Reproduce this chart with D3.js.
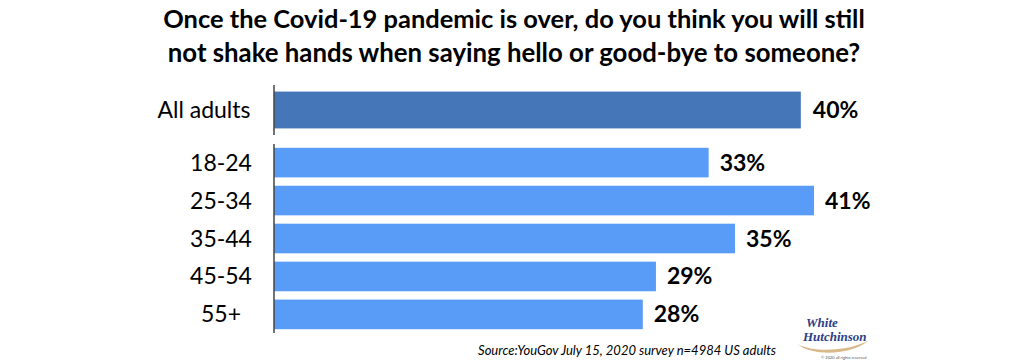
<!DOCTYPE html>
<html>
<head>
    <meta charset="utf-8">
    <style>
        body { margin: 0; background: white; }
        svg { display: block; font-family: Lato, 'Noto Sans', sans-serif; }
    </style>
</head>
<body>
    <svg width="1024" height="361"></svg>

<script src="https://d3js.org/d3.v7.min.js"></script>
<script>
    // data
    let titleLines = ["Once the Covid-19 pandemic is over, do you think you will still",
                      "not shake hands when saying hello or good-bye to someone?"]
    let totalLabel = ["All adults"]
    let totalValue = [40]
    let ages = ["18-24", "25-34", "35-44", "45-54", "55+"]
    let ageValues = [33, 41, 35, 29, 28]
    let source = "Source:YouGov July 15, 2020 survey n=4984 US adults"

    let svg = d3.select("svg")

    // title, stretched to the width it has in the picture
    svg.selectAll(".title")
        .data(titleLines)
        .join("text")
        .attr("class", "title")
        .attr("x", 514)
        .attr("y", (d, i) => 28 + i * 34)
        .attr("text-anchor", "middle")
        .style("font-weight", "bold")
        .style("font-size", "24px")
        .style("fill", "#000")
        .text(d => d)
        .each(function (d, i) {
            let target = i == 0 ? 702 : 693
            let w = this.getComputedTextLength()
            d3.select(this).style("font-size", (24 * target / w) + "px")
        })

    let x = d3.scaleLinear()
        .domain([0, 41])
        .range([274, 814])

    // top group: all adults
    let yTop = d3.scaleBand()
        .domain(totalLabel)
        .range([89, 131])
        .paddingInner(0)
        .paddingOuter(0.07)

    // bottom group: ages
    let yAge = d3.scaleBand()
        .domain(ages)
        .range([144, 333])
        .paddingInner(0.22)
        .paddingOuter(0.1)

    svg.selectAll(".total")
        .data(totalValue)
        .join("rect")
        .attr("x", x(0))
        .attr("y", (d, i) => yTop(totalLabel[i]))
        .attr("width", d => x(d) - x(0))
        .attr("height", yTop.bandwidth())
        .style("fill", "#4577b8")

    svg.selectAll(".age")
        .data(ageValues)
        .join("rect")
        .attr("x", x(0))
        .attr("y", (d, i) => yAge(ages[i]))
        .attr("width", d => x(d) - x(0))
        .attr("height", yAge.bandwidth())
        .style("fill", "#589cf8")

    // value labels
    svg.selectAll(".totalval")
        .data(totalValue)
        .join("text")
        .attr("x", d => x(d) + 12)
        .attr("y", (d, i) => yTop(totalLabel[i]) + yTop.bandwidth() / 2 + 8)
        .style("font-weight", "bold")
        .style("font-size", "23px")
        .text(d => d + "%")

    svg.selectAll(".ageval")
        .data(ageValues)
        .join("text")
        .attr("x", d => x(d) + 11)
        .attr("y", (d, i) => yAge(ages[i]) + yAge.bandwidth() / 2 + 8)
        .style("font-weight", "bold")
        .style("font-size", "23px")
        .text(d => d + "%")

    // category labels
    svg.selectAll(".totallab")
        .data(totalLabel)
        .join("text")
        .attr("x", 204)
        .attr("y", d => yTop(d) + yTop.bandwidth() / 2 + 8)
        .attr("text-anchor", "middle")
        .style("font-size", "23px")
        .text(d => d)

    svg.selectAll(".agelab")
        .data(ages)
        .join("text")
        .attr("x", 221)
        .attr("y", d => yAge(d) + yAge.bandwidth() / 2 + 8)
        .attr("text-anchor", "middle")
        .style("font-size", "23px")
        .text(d => d)

    // axis lines
    svg.append("line")
        .attr("x1", x(0)).attr("x2", x(0))
        .attr("y1", 85).attr("y2", 135)
        .style("stroke", "#444").style("stroke-width", 1.5)
    svg.append("line")
        .attr("x1", x(0)).attr("x2", x(0))
        .attr("y1", 144).attr("y2", 333)
        .style("stroke", "#444").style("stroke-width", 1.5)

    // source
    svg.append("text")
        .attr("x", 776)
        .attr("y", 355)
        .attr("text-anchor", "end")
        .style("font-style", "italic")
        .style("font-size", "13px")
        .text(source)

    // logo
    let logo = svg.append("g").attr("transform", "translate(797,314)")
    logo.append("path")
        .attr("d", "M0,30 C20,40 55,36 72,26 C58,40 18,44 0,30 Z")
        .style("fill", "#d9b98a")
    logo.append("text")
        .attr("x", 9).attr("y", 13)
        .style("font-family", "'Liberation Serif', serif")
        .style("font-style", "italic").style("font-weight", "bold")
        .style("font-size", "13px").style("fill", "#2c3e86")
        .text("White")
    logo.append("text")
        .attr("x", 6).attr("y", 27)
        .style("font-family", "'Liberation Serif', serif")
        .style("font-style", "italic").style("font-weight", "bold")
        .style("font-size", "13px").style("fill", "#2c3e86")
        .text("Hutchinson")
    logo.append("text")
        .attr("x", 24).attr("y", 45)
        .style("font-size", "4px").style("fill", "#555")
        .text("© 2020 all rights reserved")
</script>
</body>
</html>
